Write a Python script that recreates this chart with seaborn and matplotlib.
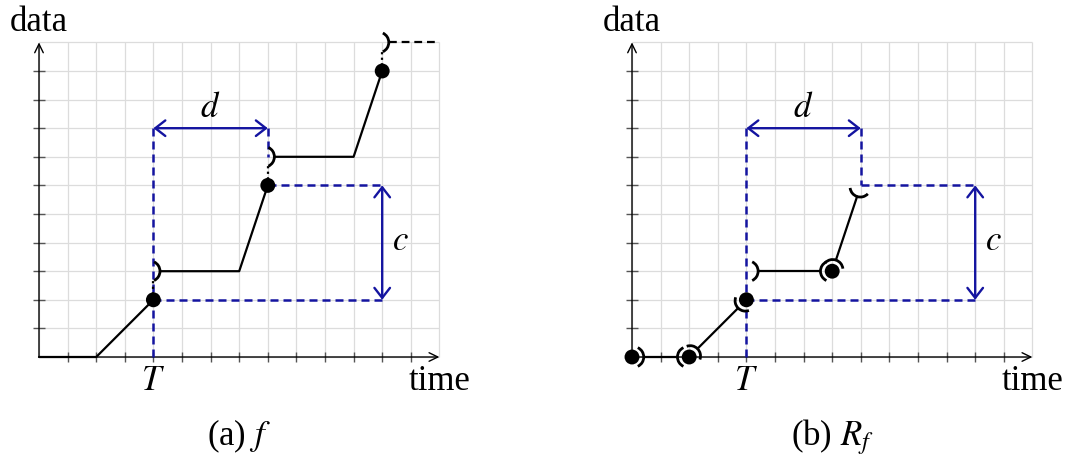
import numpy as np
import matplotlib
matplotlib.use("Agg")
import matplotlib.pyplot as plt
from matplotlib.patches import Arc
import seaborn as sns

# ---------------- data ----------------
x_max, y_max = 14, 11
T, d, c = 4, 4, 4
base = 2                      # level of the first filled point
d_arrow_y = 8                 # height of the "d" arrow
c_arrow_x = 12                # position of the "c" arrow

# panel (a): f, drawn piece by piece
f_pieces_x = [[0, 2, 4], [4, 7, 8], [8, 11, 12]]
f_pieces_y = [[0, 0, 2], [3, 3, 6], [7, 7, 10]]
f_dots_x = [4, 8, 12]
f_dots_y = [2, 6, 10]
f_open_x = [4, 8, 12]
f_open_y = [3, 7, 11]
f_tail_x = [12, 14]
f_tail_y = [11, 11]

# panel (b): R_f as a chain of open segments
r_seg_x0 = [0, 2, 4, 7]
r_seg_y0 = [0, 0, 3, 3]
r_seg_x1 = [2, 4, 7, 8]
r_seg_y1 = [0, 2, 3, 6]
r_dots_x = [0, 2, 4, 7]
r_dots_y = [0, 0, 2, 3]

# ---------------- style ----------------
sns.set_theme(style="white")
plt.rcParams["font.family"] = ["Liberation Serif", "DejaVu Serif"]
plt.rcParams["mathtext.fontset"] = "stix"
plt.rcParams["text.color"] = "black"

BLUE = "#1414a0"
GRID = "#dcdcdc"
AXC = "#555555"
FS = 25
LW = 1.6

W, H, U = 1070, 457, 28.6
XMIN, XMAX, YMIN, YMAX = -1.36, 15.0, -3.5, 12.5

fig = plt.figure(figsize=(W / 100, H / 100), dpi=100)


def make_axes(ox, oy):
    left = (ox + XMIN * U) / W
    bottom = (H - oy + YMIN * U) / H
    ax = fig.add_axes([left, bottom, (XMAX - XMIN) * U / W, (YMAX - YMIN) * U / H])
    ax.set_xlim(XMIN, XMAX)
    ax.set_ylim(YMIN, YMAX)
    ax.axis("off")
    # grid
    ax.vlines(np.arange(0, x_max + 1), 0, y_max, color=GRID, lw=0.9, zorder=0)
    ax.hlines(np.arange(0, y_max + 1), 0, x_max, color=GRID, lw=0.9, zorder=0)
    # ticks
    ax.vlines(np.arange(1, x_max), -0.18, 0.18, color=AXC, lw=1.0, zorder=1)
    ax.hlines(np.arange(1, y_max), -0.2, 0.2, color=AXC, lw=1.0, zorder=1)
    # axes with arrow tips
    arr = dict(arrowstyle="->,head_length=0.45,head_width=0.22", color="black",
               lw=1.0, shrinkA=0, shrinkB=0, mutation_scale=14)
    ax.annotate("", xy=(x_max, 0), xytext=(0, 0), arrowprops=arr, zorder=2)
    ax.annotate("", xy=(0, y_max), xytext=(0, 0), arrowprops=arr, zorder=2)
    ax.text(0, 11.4, "data", fontsize=FS, ha="center", va="baseline")
    ax.text(x_max, -1.15, "time", fontsize=FS, ha="center", va="baseline")
    ax.text(T, -1.15, "$T$", fontsize=FS, ha="center", va="baseline")
    return ax


def bracket(ax, px, py, ang, shift, r=0.36, span=65):
    """Parenthesis-shaped open end at (px, py) facing direction ang (deg)."""
    t = np.deg2rad(ang)
    cx, cy = px + shift * np.cos(t), py + shift * np.sin(t)
    ax.add_patch(Arc((cx, cy), 2 * r, 2 * r, theta1=ang - span, theta2=ang + span,
                     color="black", lw=2.0, zorder=4))
    apex = shift + r
    return px + apex * np.cos(t), py + apex * np.sin(t)


def blue_marks(ax, right_drop):
    dash = dict(color=BLUE, lw=1.8, ls=(0, (3.2, 2.0)), zorder=2)
    ax.plot([T, T], [0, d_arrow_y], **dash)
    ax.plot([T + d, T + d], [d_arrow_y, right_drop], **dash)
    ax.plot([T, c_arrow_x], [base, base], **dash)
    ax.plot([T + d, c_arrow_x], [base + c, base + c], **dash)
    arr = dict(arrowstyle="<->,head_length=0.45,head_width=0.35", color=BLUE,
               lw=1.7, shrinkA=0, shrinkB=0, mutation_scale=16)
    ax.annotate("", xy=(T + d, d_arrow_y), xytext=(T, d_arrow_y), arrowprops=arr, zorder=3)
    ax.annotate("", xy=(c_arrow_x, base + c), xytext=(c_arrow_x, base), arrowprops=arr, zorder=3)
    ax.text(T + d / 2, d_arrow_y + 0.4, "$d$", fontsize=FS, ha="center", va="baseline")
    ax.text(c_arrow_x + 0.62, base + c / 2 - 0.25, "$c$", fontsize=FS, ha="center", va="baseline")


# ---------------- panel (a) ----------------
axa = make_axes(39, 357)
blue_marks(axa, f_open_y[1])
for i, (xs, ys) in enumerate(zip(f_pieces_x, f_pieces_y)):
    xs, ys = list(xs), list(ys)
    if i > 0:
        sx, sy = bracket(axa, xs[0], ys[0], 0, -0.13)
        xs[0], ys[0] = sx, sy
    sns.lineplot(x=xs, y=ys, sort=False, estimator=None, color="black", lw=LW,
                 ax=axa, zorder=3)
# jumps: dotted link from filled point up to the open end above it
for x0, y0, y1 in zip(f_dots_x, f_dots_y, f_open_y):
    axa.plot([x0, x0], [y0, y1 - 0.3], color="black", lw=1.6, ls=(0, (1, 1.5)), zorder=3)
tx, ty = bracket(axa, f_tail_x[0], f_tail_y[0], 0, -0.13)
axa.plot([tx, f_tail_x[1]], [ty, f_tail_y[1]], color="black", lw=LW,
         ls=(0, (3.5, 2.2)), zorder=3)
sns.scatterplot(x=f_dots_x, y=f_dots_y, s=115, color="black", edgecolor="none",
                ax=axa, zorder=5)
axa.text(7, -3.08, "(a) $f$", fontsize=FS, ha="center", va="baseline")
axa.set_xlim(XMIN, XMAX)
axa.set_ylim(YMIN, YMAX)
axa.axis("off")

# ---------------- panel (b) ----------------
axb = make_axes(632, 357)
blue_marks(axb, base + c)
for x0, y0, x1, y1 in zip(r_seg_x0, r_seg_y0, r_seg_x1, r_seg_y1):
    ang = np.degrees(np.arctan2(y1 - y0, x1 - x0))
    sx, sy = bracket(axb, x0, y0, ang, 0.05)
    ex, ey = bracket(axb, x1, y1, ang + 180, 0.05)
    sns.lineplot(x=[sx, ex], y=[sy, ey], sort=False, estimator=None, color="black",
                 lw=LW, ax=axb, zorder=3)
sns.scatterplot(x=r_dots_x, y=r_dots_y, s=115, color="black", edgecolor="none",
                ax=axb, zorder=5)
axb.text(7, -3.08, "(b) $R_f$", fontsize=FS, ha="center", va="baseline")
axb.set_xlim(XMIN, XMAX)
axb.set_ylim(YMIN, YMAX)
axb.axis("off")

fig.savefig("out.png", dpi=100, facecolor="white")
